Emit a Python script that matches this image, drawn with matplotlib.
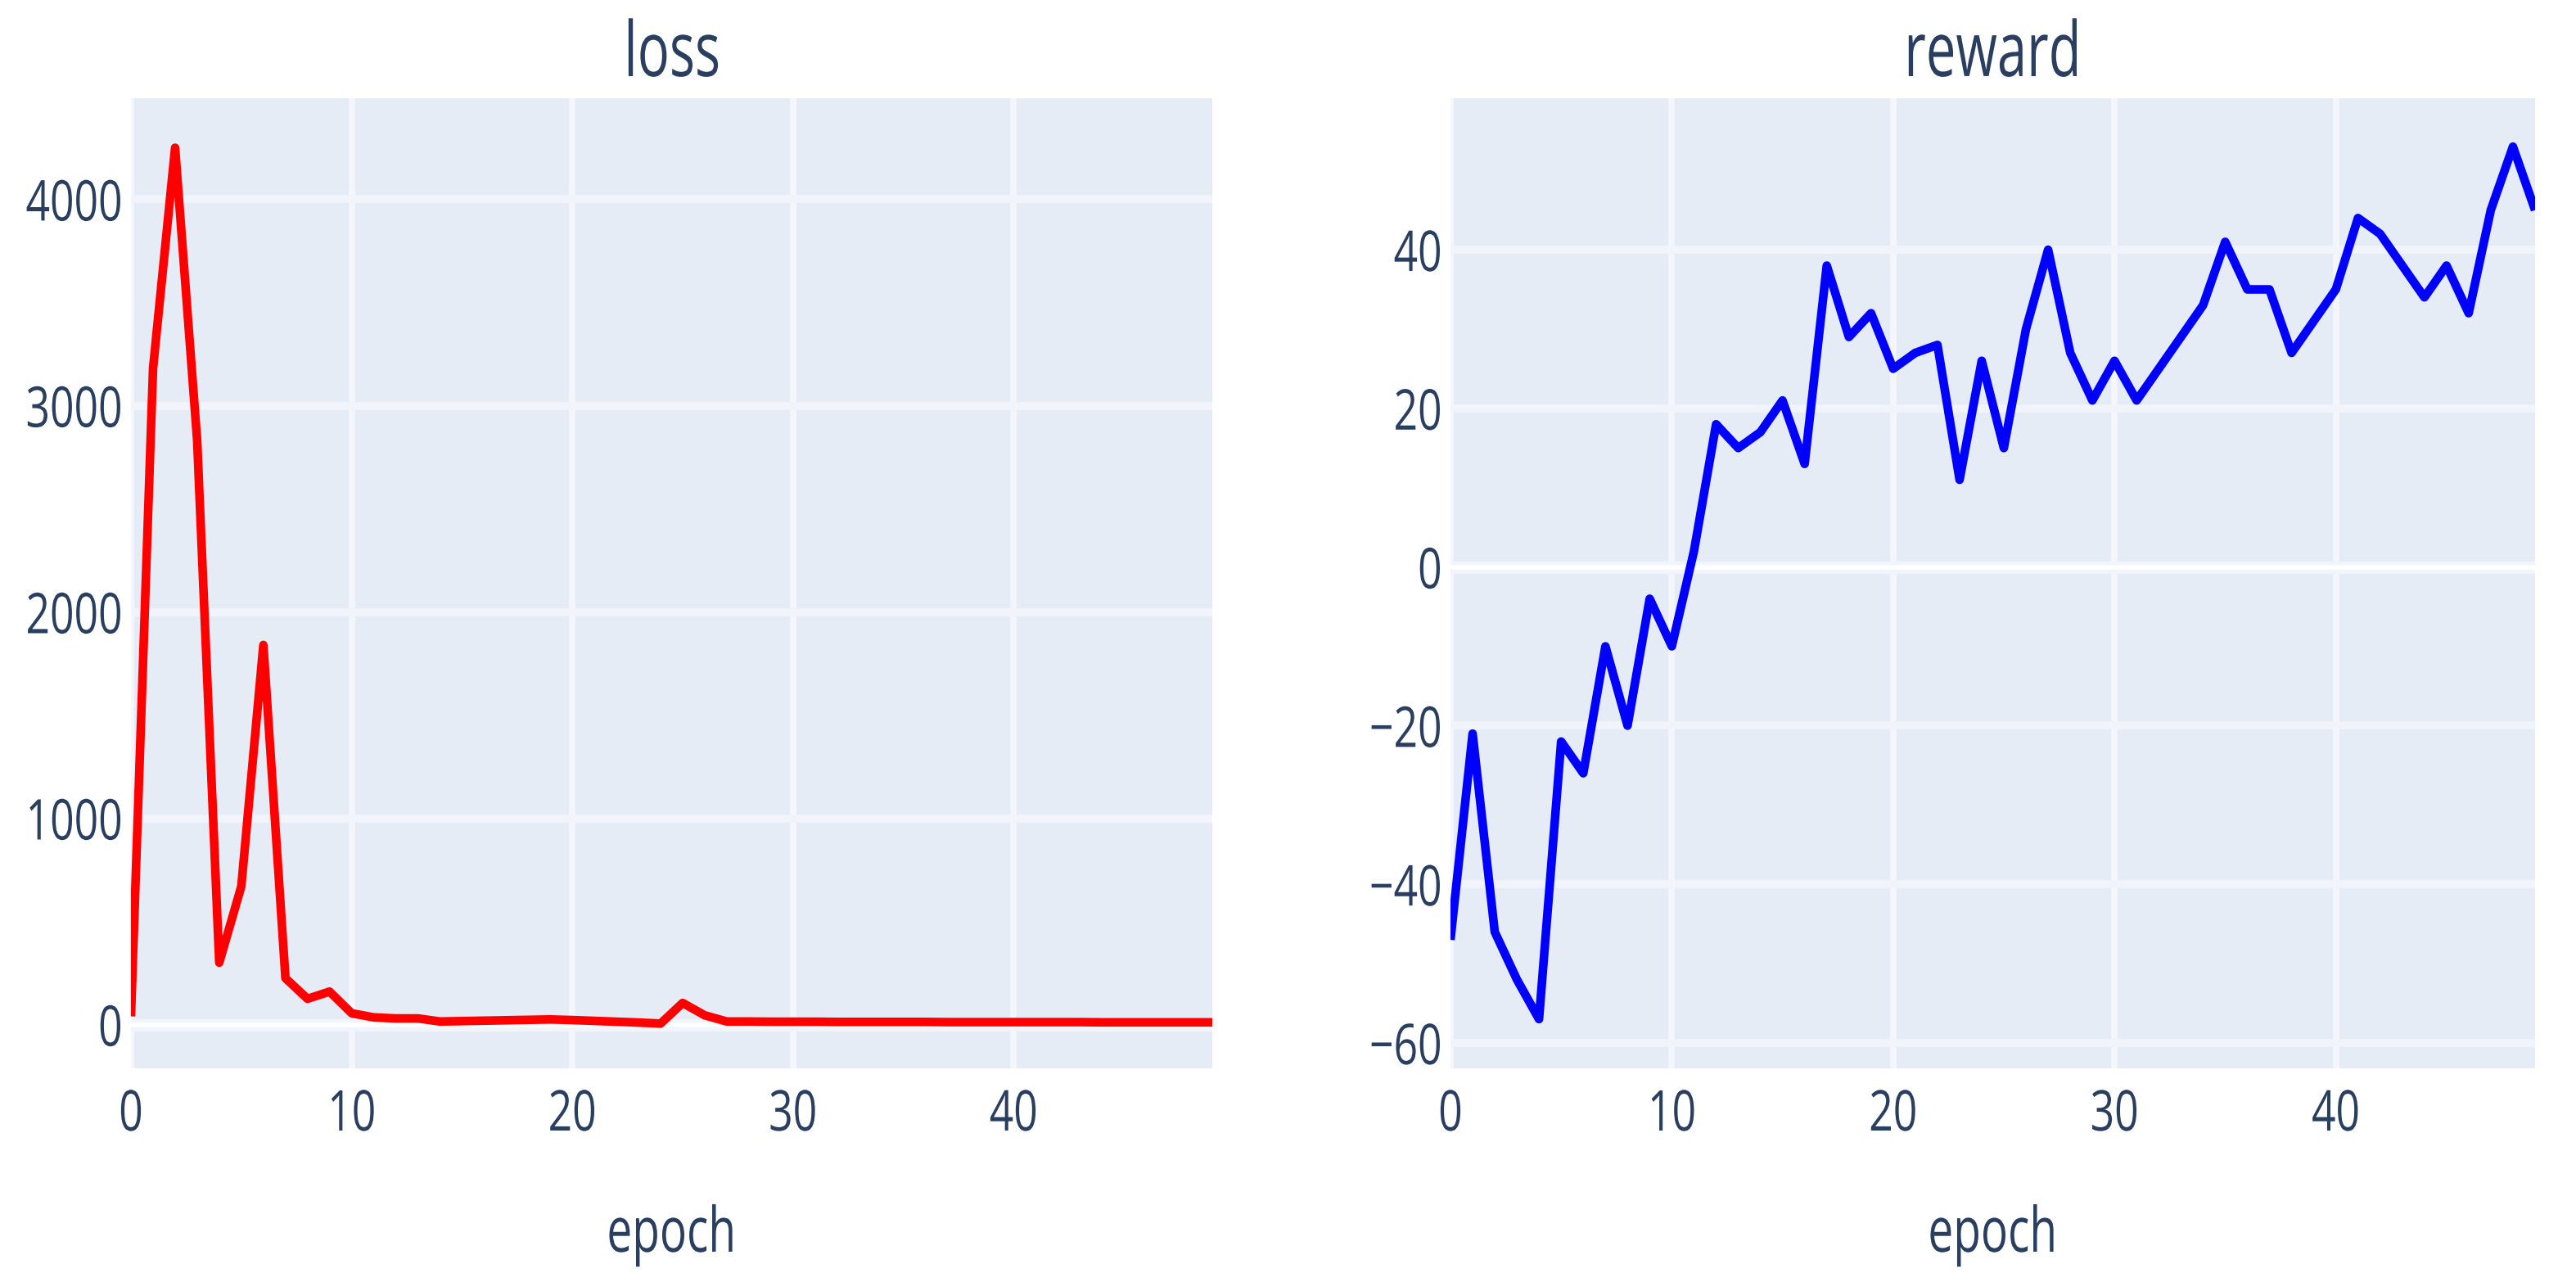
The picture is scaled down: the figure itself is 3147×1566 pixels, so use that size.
import numpy as np
import matplotlib
matplotlib.use("Agg")
import matplotlib.pyplot as plt
from matplotlib import patheffects
from matplotlib.transforms import Affine2D

# ---------------- data ----------------
epochs = np.arange(50)
loss = [40, 3180, 4250, 2830, 300, 670, 1840, 225, 125, 160,
        55, 35, 30, 30, 15, 17, 19, 21, 23, 25,
        22, 18, 14, 10, 5, 105, 45, 15, 15, 14,
        14, 14, 13, 13, 13, 13, 13, 12, 12, 12,
        12, 12, 12, 12, 11, 11, 11, 11, 11, 11]
reward = [-47, -21, -46, -52, -57, -22, -26, -10, -20, -4,
          -10, 2, 18, 15, 17, 21, 13, 38, 29, 32,
          25, 27, 28, 11, 26, 15, 30, 40, 27, 21,
          26, 21, 25, 29, 33, 41, 35, 35, 27, 31,
          35, 44, 42, 38, 34, 38, 32, 45, 53, 45]
titles = ["loss", "reward"]
x_label = "epoch"
x_ticks = [0, 10, 20, 30, 40]
loss_ticks = [0, 1000, 2000, 3000, 4000]
reward_ticks = [-60, -40, -20, 0, 20, 40]

# ---------------- style ----------------
W, H = 3147, 1566
TXT = "#2a3f5f"
BG = "#E5ECF6"
FONT = ["Open Sans", "DejaVu Sans"]
plt.rcParams["font.family"] = FONT


class Stretch(patheffects.AbstractPathEffect):
    """Reshape glyphs (the reference text is tall and narrow)."""
    def __init__(self, sx, sy=1.0, anchor="center"):
        super().__init__()
        self.sx = sx
        self.sy = sy
        self.anchor = anchor

    def draw_path(self, renderer, gc, tpath, affine, rgbFace=None):
        ext = tpath.get_extents(affine)
        cx = {"left": ext.x0, "center": 0.5 * (ext.x0 + ext.x1), "right": ext.x1}[self.anchor]
        cy = 0.5 * (ext.y0 + ext.y1)
        t = affine + Affine2D().translate(-cx, -cy).scale(self.sx, self.sy).translate(cx, cy)
        renderer.draw_path(gc, tpath, t, rgbFace)


fig = plt.figure(figsize=(W / 100, H / 100), dpi=100)

def frac_rect(x0, x1, y0, y1):
    return [x0 / W, 1 - y1 / H, (x1 - x0) / W, (y1 - y0) / H]

axes_px = [(160, 1481, 120, 1305), (1772, 3097, 120, 1305)]
series = [loss, reward]
colors = ["red", "blue"]
yticks = [loss_ticks, reward_ticks]
ylims = [(-212, 4490), (-63.2, 59.1)]

for i in range(2):
    x0, x1, y0, y1 = axes_px[i]
    ax = fig.add_axes(frac_rect(x0, x1, y0, y1))
    ax.set_facecolor(BG)
    for s in ax.spines.values():
        s.set_visible(False)
    ax.set_axisbelow(True)
    ax.yaxis.grid(True, color="#F1F4FA", lw=7)
    ax.xaxis.grid(True, color="#F4F6FB", lw=5.5)
    ax.axhline(0, color="#F1F4FA", lw=11, zorder=1)
    ax.axhline(0, color="white", lw=4, zorder=1.1)
    ax.plot(epochs, series[i], color=colors[i], lw=7.6, zorder=3,
            solid_joinstyle="round", solid_capstyle="butt")
    ax.set_xlim(0, 49)
    ax.set_ylim(*ylims[i])
    ax.set_xticks(x_ticks)
    ax.set_yticks(yticks[i])
    ax.set_xticklabels([str(t) for t in x_ticks])
    ax.set_yticklabels([str(t).replace("-", "\u2212") for t in yticks[i]])
    ax.tick_params(axis="both", length=0, labelsize=42, labelcolor=TXT)
    ax.tick_params(axis="y", pad=7.2)
    ax.tick_params(axis="x", pad=20)
    for lbl in ax.get_yticklabels():
        lbl.set_path_effects([Stretch(0.885, 1.177, "right")])
    for lbl in ax.get_xticklabels():
        lbl.set_path_effects([Stretch(0.885, 1.177, "center")])

    cx = 0.5 * (x0 + x1) / W
    t = fig.text(cx, 1 - 93 / H, titles[i], ha="center", va="baseline",
                 fontsize=67, color=TXT)
    t.set_path_effects([Stretch(0.70, 1.0, "center")])
    e = fig.text(cx, 1 - 1529 / H, x_label, ha="center", va="baseline",
                 fontsize=55, color=TXT)
    e.set_path_effects([Stretch(0.72, 1.0, "center")])

fig.savefig("out.png", dpi=100, facecolor="white")
